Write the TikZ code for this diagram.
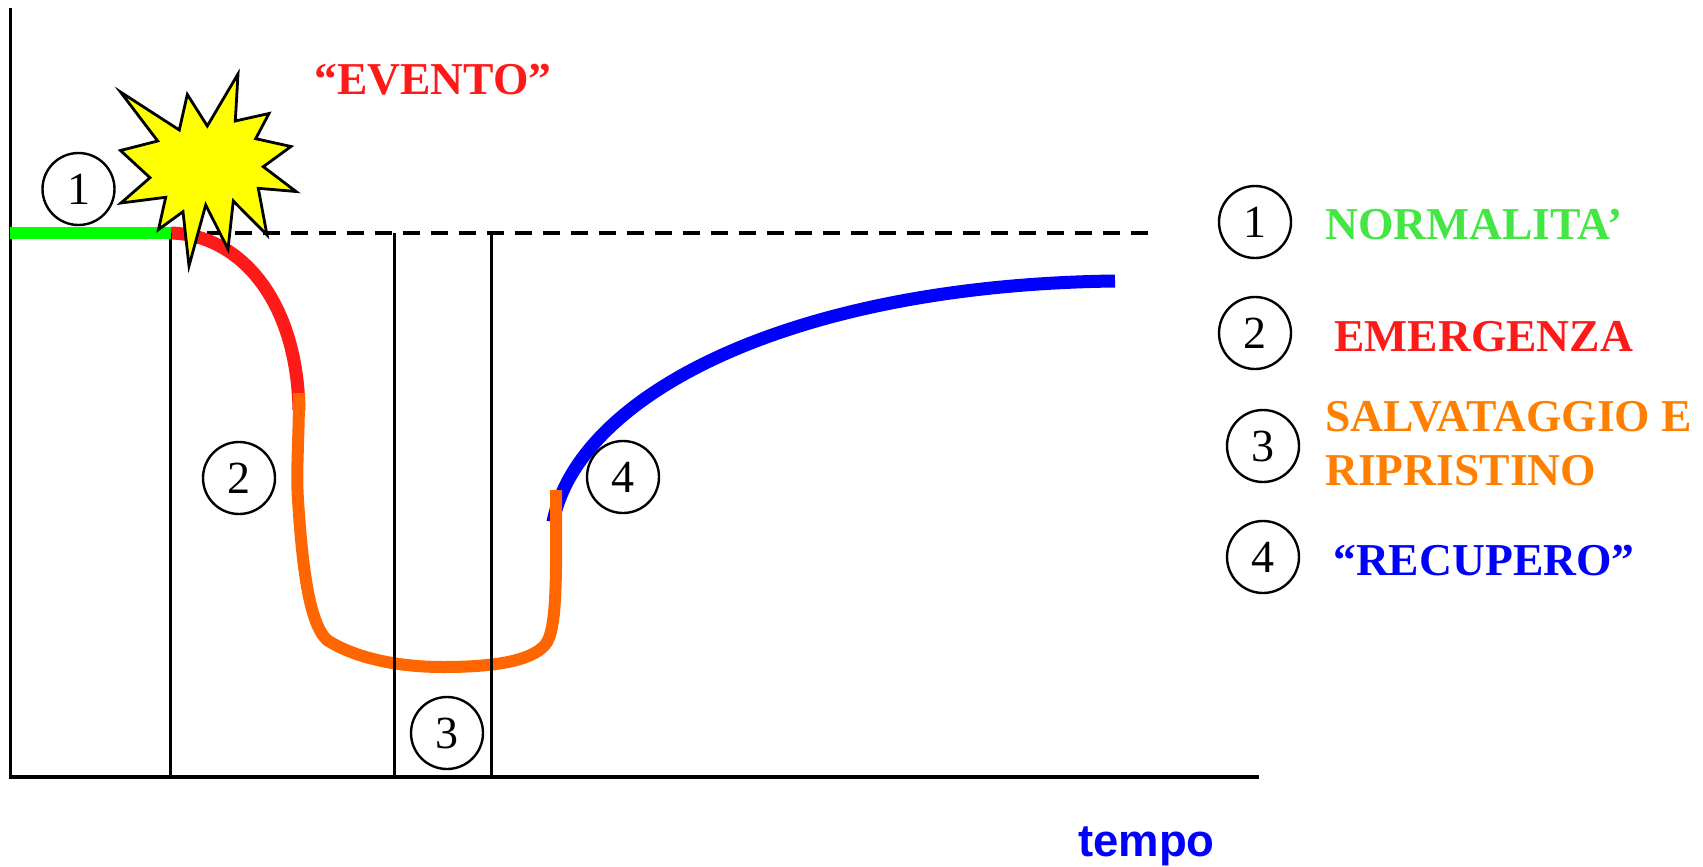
\documentclass[tikz,border=0pt]{standalone}
\usepackage{fontspec}
\setmainfont{Liberation Serif}
\newfontfamily\tempofont{Liberation Sans}
\definecolor{cgreenline}{HTML}{00FF00}
\definecolor{credline}{HTML}{FF1A1A}
\definecolor{corangeline}{HTML}{FF6600}
\definecolor{cblue}{HTML}{0000FF}
\definecolor{cgreentext}{HTML}{44E644}
\definecolor{credtext}{HTML}{FF1A1A}
\definecolor{corangetext}{HTML}{FF8000}
\definecolor{cyellow}{HTML}{FFFF00}
\tikzset{
  numcircle/.style={draw=black,line width=2.4pt,circle,minimum size=72pt,inner sep=0pt,font=\fontsize{46}{46}\selectfont},
  legendtext/.style={anchor=base west,inner sep=0pt,font=\fontsize{45.6}{46}\selectfont\bfseries},
  axisline/.style={black,line width=3.4pt},
  guideline/.style={black,line width=2.7pt},
  curveline/.style={line width=13pt,line cap=butt}
}
\begin{document}
\begin{tikzpicture}[x=1pt,y=-1pt]
\useasboundingbox (0,0) rectangle (1703,867);
\coordinate (origin) at (10.5,777);
\coordinate (ytop) at (10.5,8);
\coordinate (xend) at (1259,777);
\coordinate (dashstart) at (207,233);
\coordinate (dashend) at (1150,233);
\coordinate (g1) at (171,233);\coordinate (g0) at (10,233);
\coordinate (r1) at (299,410);
\coordinate (b0) at (553,522);\coordinate (b1) at (1115,281);
\coordinate (o0) at (299,393);\coordinate (o1) at (556,490);
\coordinate (v1t) at (170.3,233);\coordinate (v1b) at (170.3,777);
\coordinate (v2t) at (394.5,233);\coordinate (v2b) at (394.5,777);
\coordinate (v3t) at (491.5,233);\coordinate (v3b) at (491.5,777);
% dashed reference
\draw[black,line width=4pt,dash pattern=on 16.7pt off 11.3pt] (dashstart) -- (dashend);
% curves under
\draw[credline,curveline] (g1) .. controls (240,235) and (297,300) .. (r1);
\draw[cblue,curveline] (b0) .. controls (578,395) and (790,285) .. (b1);
\draw[corangeline,line width=12pt,line join=round] (o0) .. controls (299,440) and (296,470) .. (298,500) .. controls (302,560) and (308,622) .. (327,640) .. controls (350,655) and (390,667) .. (443,667) .. controls (490,667) and (530,662) .. (545,645) .. controls (558,630) and (556,570) .. (o1);
% axes and guides
\draw[guideline] (v1t) -- (v1b);
\draw[guideline] (v2t) -- (v2b);
\draw[guideline] (v3t) -- (v3b);
\draw[axisline] (ytop) -- (origin) -- (xend);
\draw[cgreenline,line width=12.7pt] (g0) -- (g1);
% star
\draw[black,fill=cyellow,line width=2.8pt,line join=miter]
 (120.5,92) -- (179.3,130) -- (187.3,94.5) -- (207.3,126) -- (238,74) -- (235.3,121) -- (269,113.5) -- (255.7,138.7) -- (291,146.5) -- (263.3,166.7) -- (296,191.5) -- (258.3,188.3) -- (267,235) -- (233.3,201) -- (228,249) -- (205.7,205) -- (189,266) -- (183,211.7) -- (158.5,229.5) -- (165.7,197.3) -- (121,203) -- (150,177.7) -- (120.5,150.5) -- (157.7,141) -- cycle;
% circles
\node[numcircle] (c1) at (78.5,189) {1};
\node[numcircle] (c2) at (239,478) {2};
\node[numcircle] (c3) at (447,733) {3};
\node[numcircle] (c4) at (623,477) {4};
\node[numcircle] (l1) at (1255,222) {1};
\node[numcircle] (l2) at (1255,333) {2};
\node[numcircle] (l3) at (1263,446) {3};
\node[numcircle] (l4) at (1263,557) {4};
% texts
\node[legendtext,text=credtext] (evento) at (314,95) {“EVENTO”};
\node[legendtext,text=cgreentext] (t1) at (1325,239) {NORMALITA’};
\node[legendtext,text=credtext] (t2) at (1334,351) {EMERGENZA};
\node[legendtext,text=corangetext] (t3a) at (1325,431) {SALVATAGGIO E};
\node[legendtext,text=corangetext] (t3b) at (1325,485) {RIPRISTINO};
\node[legendtext,text=cblue] (t4) at (1333,575) {“RECUPERO”};
\node[anchor=base west,inner sep=0pt,text=cblue,font=\fontsize{45.5}{46}\selectfont\tempofont\bfseries] (tempo) at (1078,856) {tempo};
\end{tikzpicture}
\end{document}
